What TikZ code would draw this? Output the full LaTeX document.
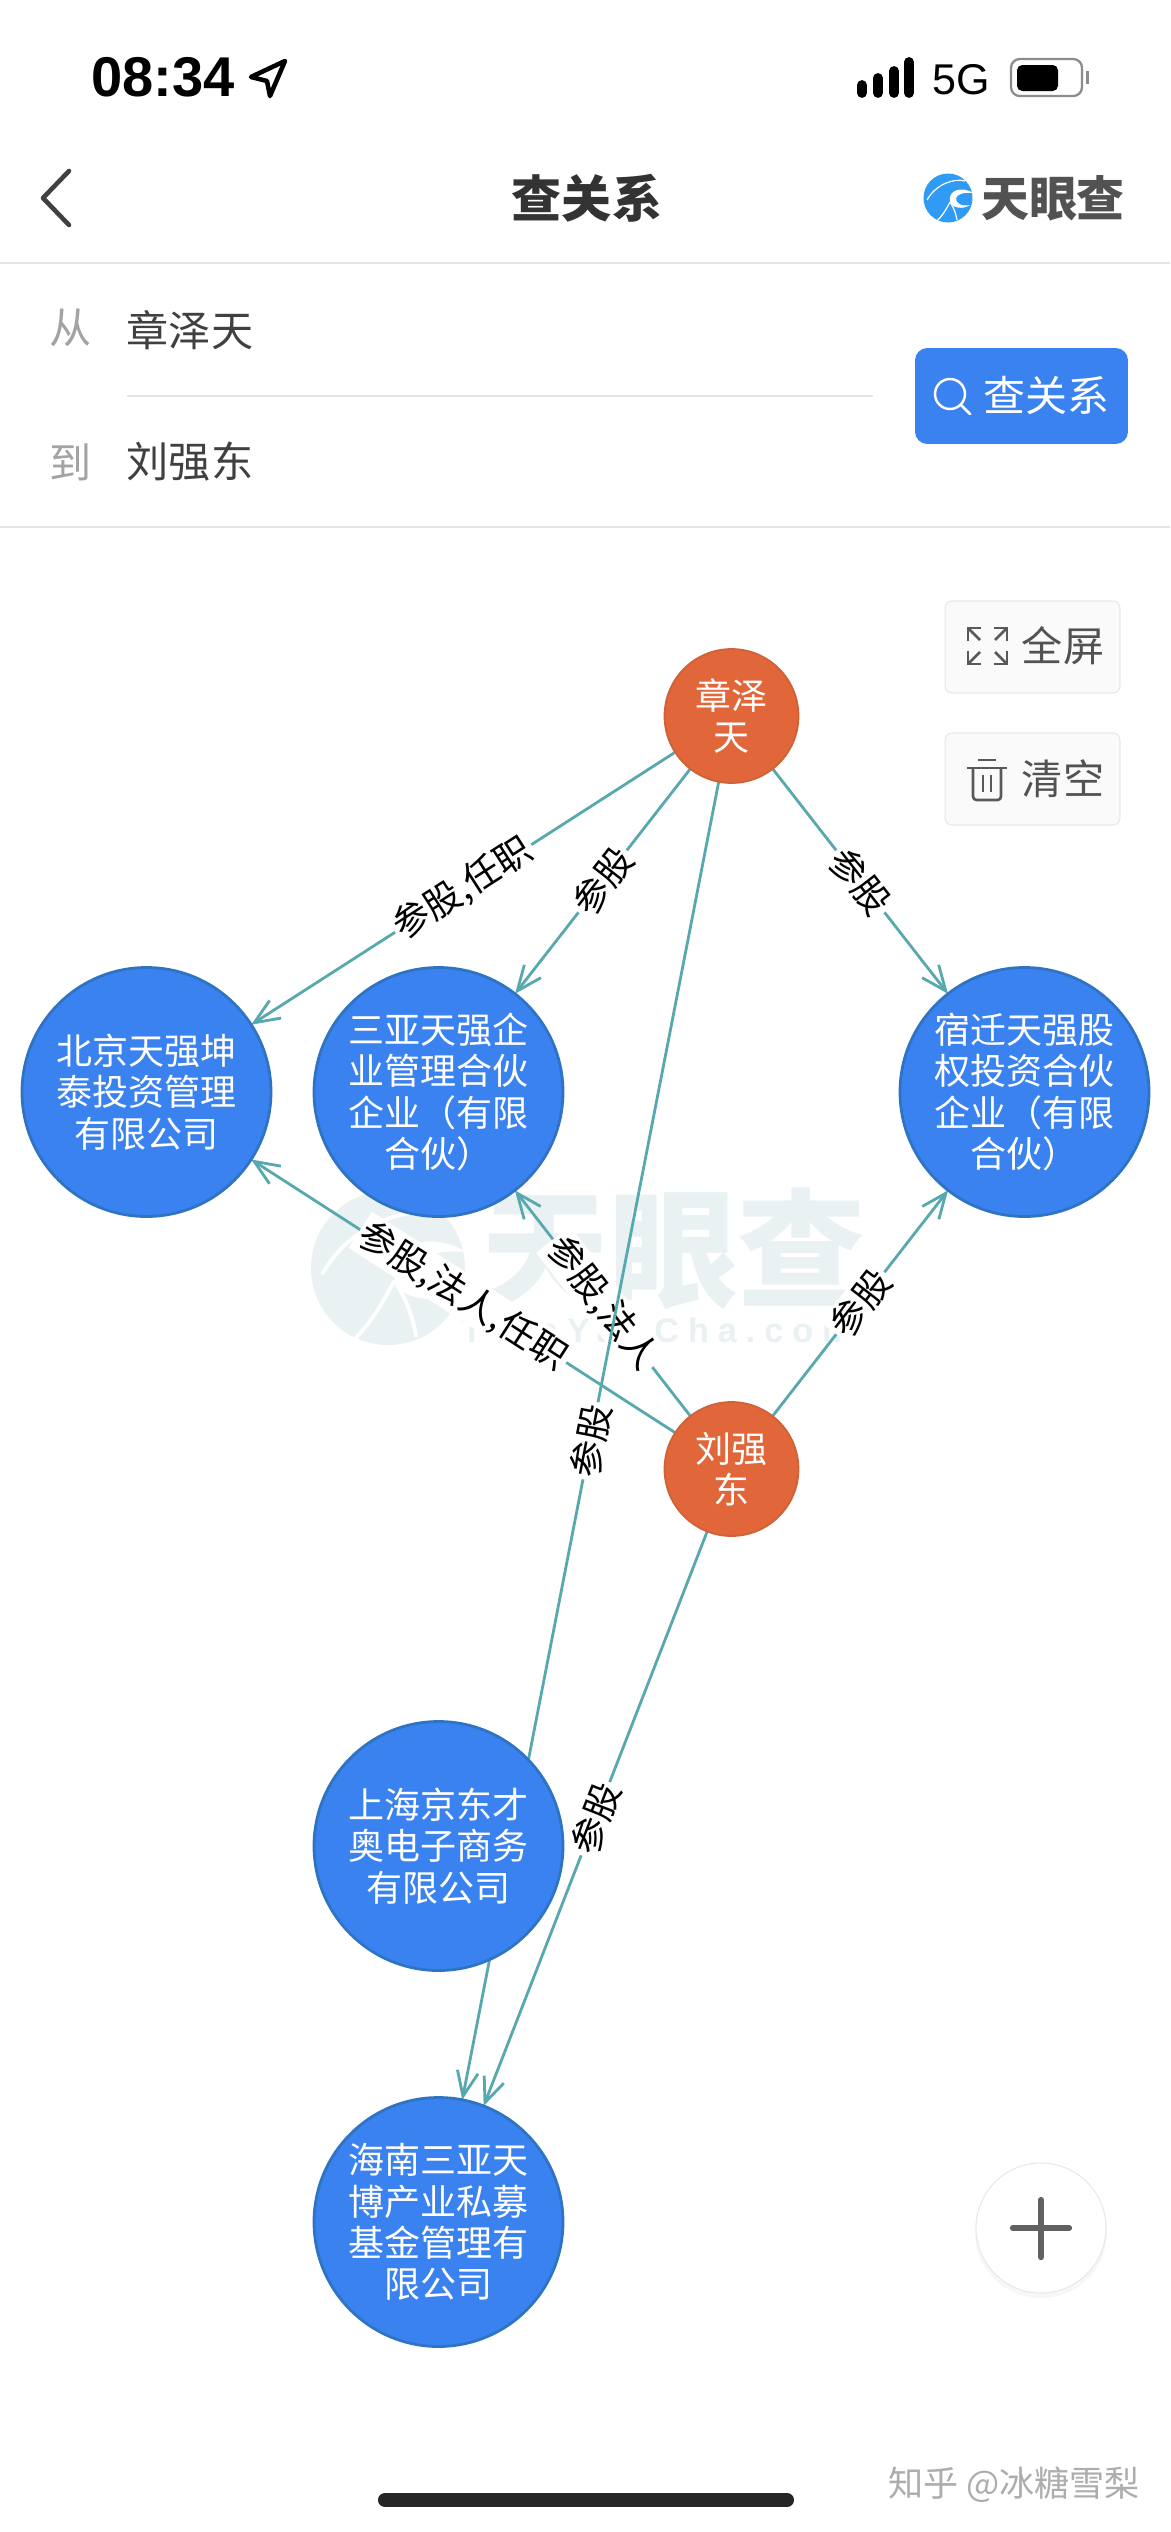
\documentclass[tikz,border=0pt]{standalone}
\usepackage{fontspec}
\usepackage{tikz}
\usetikzlibrary{arrows.meta,backgrounds}
\setmainfont{Noto Sans CJK SC}
\newfontfamily\latinfont{Liberation Sans}
\newfontfamily\markfont[LetterSpace=26]{Liberation Sans}
\definecolor{relcolor}{HTML}{58A9AE}
\definecolor{corpcolor}{HTML}{3B82F1}
\definecolor{corpedge}{HTML}{2F74C4}
\definecolor{mancolor}{HTML}{E1663A}
\definecolor{manedge}{HTML}{CF6238}
\definecolor{markcolor}{HTML}{EAF1F2}
\definecolor{inkcolor}{HTML}{404040}
\newcommand{\swirl}[2]{
    \draw[#1,line width=#2] (17,-17) .. controls (6,-20) and (-12,-14) .. (-21,2);
    \fill[#1] (25,-5) .. controls (14,-12) and (0,-8) .. (2,3) .. controls (3,10) and (15,12) .. (22,7) .. controls (14,9) and (7,5) .. (8,0) .. controls (9,-4) and (17,-6) .. (25,-5);
    \draw[#1,line width=#2] (2,4) .. controls (-2,12) and (-6,18) .. (-11,23);
    \draw[#1,line width=#2] (2,4) .. controls (6,10) and (8,16) .. (9,22);
}

\begin{document}
\begin{tikzpicture}[x=0.02cm,y=-0.02cm,
    every node/.style={outer sep=0pt,inner sep=0pt},
    corp/.style={circle,fill=corpcolor,draw=corpedge,line width=1.6pt,minimum size=4.98cm,text=white,align=center,font=\fontsize{20.5}{23.6}\selectfont},
    man/.style={corp,fill=mancolor,draw=manedge,line width=1pt,minimum size=2.68cm},
    rel/.style={draw=relcolor,line width=1.6pt,-{Straight Barb[length=.5cm,width=.42cm]}},
    rellabel/.style={sloped,midway,fill=white,inner sep=1.5pt,text=black,font=\fontsize{20.8}{23}\selectfont},
    sidebtn/.style={rectangle,rounded corners=4pt,fill=white!98!black,draw=black!9,line width=.6pt,minimum width=3.5cm,minimum height=1.84cm},
    field/.style={text=inkcolor,font=\fontsize{24}{26}\selectfont},
    hint/.style={field,text=black!36},
    sidetext/.style={text=black!68,font=\fontsize{23.4}{25}\selectfont},
    sep/.style={draw=black!10,line width=.7pt},
    icon/.style={draw=black!65,line width=1.5pt}]
    \useasboundingbox (0,0) rectangle (1170,2532);

    % status bar
    \node[text=black,font=\latinfont\bfseries\fontsize{31.9}{34}\selectfont] (clock) at (163,77) {08:34};
    \draw[black,line width=2.6pt,line join=round] (285,61) -- (251,77) -- (267,81) -- (270,96) -- cycle;
    \foreach \bx/\by in {862/82,878/75,894/68,909/59}
        \draw[black,line width=5.6pt,line cap=round] (\bx,\by+3) -- (\bx,93);
    \node[text=black,font=\latinfont\fontsize{24.5}{26}\selectfont] (net) at (961,80) {5G};
    \draw[black!45,line width=1.3pt,rounded corners=5pt] (1011,59) rectangle (1082,96);
    \fill[black,rounded corners=3pt] (1017,65) rectangle (1058,91);
    \fill[black!45] (1086,71) rectangle (1089,84);

    % title bar
    \draw[inkcolor,line width=2.6pt,line cap=round,line join=round] (69,171) -- (43,198) -- (69,225);
    \node[text=black!80,font=\bfseries\fontsize{28.5}{30}\selectfont] (title) at (587,198) {查关系};
    \fill[corpcolor!80!cyan] (948,198) circle[radius=24.5];
    \begin{scope}[shift={(948,198)}]
        \swirl{white}{.7pt}
    \end{scope}
    \node[text=black!68,font=\bfseries\fontsize{27.3}{29}\selectfont] (brand) at (1053,198) {天眼查};
    \draw[sep] (0,263) -- (1170,263);

    % search fields
    \node[hint] (from) at (71,328) {从};
    \node[field] (fromname) at (190,330) {章泽天};
    \draw[sep] (127,396) -- (873,396);
    \node[hint] (to) at (71,462) {到};
    \node[field] (toname) at (190,462) {刘强东};
    \draw[sep] (0,527) -- (1170,527);
    \node[rectangle,rounded corners=7pt,fill=corpcolor,minimum width=4.26cm,minimum height=1.92cm] (search) at (1021.5,396) {};
    \draw[white,line width=1.4pt] (950,394) circle[radius=15];
    \draw[white,line width=1.6pt,line cap=round] (961,405) -- (970,414);
    \node[text=white,font=\fontsize{23.9}{26}\selectfont] (searchtext) at (1046,396) {查关系};

    % side buttons
    \node[sidebtn] (full) at (1032.5,647) {};
    \node[sidebtn] (clear) at (1032.5,779) {};
    \node[sidetext] (fulltext) at (1063,646) {全屏};
    \node[sidetext] (cleartext) at (1063,779) {清空};
    \draw[icon] (968,641) -- (968,628) -- (981,628);
    \draw[icon] (994,628) -- (1007,628) -- (1007,641);
    \draw[icon] (968,651) -- (968,664) -- (981,664);
    \draw[icon] (994,664) -- (1007,664) -- (1007,651);
    \draw[icon] (968,628) -- (980,640);
    \draw[icon] (1007,628) -- (995,640);
    \draw[icon] (968,664) -- (980,652);
    \draw[icon] (1007,664) -- (995,652);
    \draw[icon] (967,768) -- (1007,768);
    \draw[icon] (978,760) -- (996,760);
    \draw[icon,rounded corners=2pt] (973,768) -- (973,800) -- (1001,800) -- (1001,768);
    \draw[icon] (983,775) -- (983,792);
    \draw[icon] (991,775) -- (991,792);

    % people and companies
    \node[man] (zzt) at (731.5,716) {章泽\\天};
    \node[man] (ljd) at (731.5,1469) {刘强\\东};
    \node[corp] (bj) at (146.5,1092) {北京天强坤\\泰投资管理\\有限公司};
    \node[corp] (sy) at (438.5,1092) {三亚天强企\\业管理合伙\\企业（有限\\合伙）};
    \node[corp] (sq) at (1024.5,1092) {宿迁天强股\\权投资合伙\\企业（有限\\合伙）};
    \node[corp] (shjd) at (438.5,1846) {上海京东才\\奥电子商务\\有限公司};
    \node[corp] (hnsy) at (438.5,2222) {海南三亚天\\博产业私募\\基金管理有\\限公司};

    \begin{scope}[on background layer]
        \fill[white] (0,0) rectangle (1170,2532);
        % watermark
        \fill[markcolor] (388,1268) circle[radius=77];
        \begin{scope}[shift={(388,1268)},scale=3.14]
            \swirl{white}{2.2pt}
        \end{scope}
        \node[text=markcolor,font=\bfseries\fontsize{73}{76}\selectfont] (markname) at (673.5,1249) {天眼查};
        \node[text=markcolor,font=\markfont\bfseries\fontsize{19.5}{22}\selectfont] (markurl) at (657,1330) {TianYanCha.com};

        \draw[rel] (zzt) -- node[rellabel] (zb) {参股,任职} (bj);
        \draw[rel] (zzt) -- node[rellabel] (zs) {参股} (sy);
        \draw[rel] (zzt) -- node[rellabel] (zq) {参股} (sq);
        \draw[rel] (ljd) -- node[rellabel] (lb) {参股,法人,任职} (bj);
        \draw[rel] (ljd) -- node[rellabel] (ls) {参股,法人} (sy);
        \draw[rel] (ljd) -- node[rellabel] (lq) {参股} (sq);
        \draw[rel] (zzt) -- node[rellabel] (zh) {参股} (hnsy);
        \draw[rel] (ljd) -- node[rellabel] (lh) {参股} (hnsy);
    \end{scope}

    % zoom button and footer
    \fill[black!3] (1041,2232) circle[radius=66];
    \node[circle,fill=white,draw=black!9,line width=.6pt,minimum size=2.6cm] (zoomin) at (1041,2228) {};
    \draw[black!62,line width=3.6pt,line cap=round] (1013,2228) -- (1069,2228);
    \draw[black!62,line width=3.6pt,line cap=round] (1041,2200) -- (1041,2257);
    \draw[black!85,line width=8pt,line cap=round] (385,2500) -- (787,2500);
    \node[text=black!32,font=\fontsize{20}{22}\selectfont] (credit) at (1014,2485) {知乎 @冰糖雪梨};
\end{tikzpicture}
\end{document}
